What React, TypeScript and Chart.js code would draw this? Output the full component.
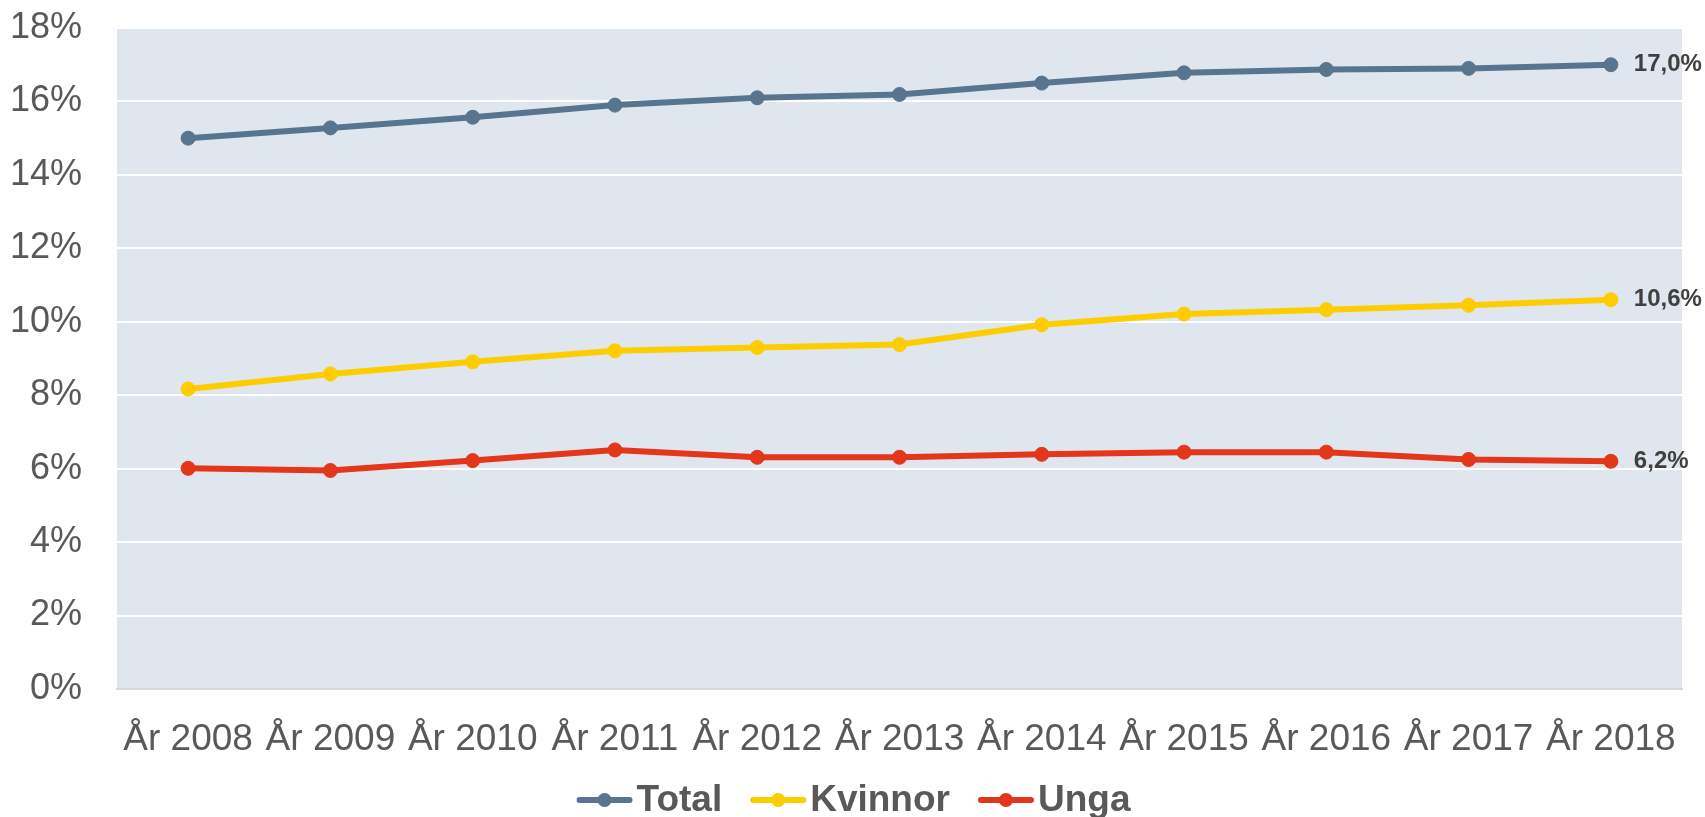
import React, { useEffect, useRef } from 'react';
import { Chart, registerables } from 'chart.js';

Chart.register(...registerables);

const categories = ['År 2008', 'År 2009', 'År 2010', 'År 2011', 'År 2012', 'År 2013', 'År 2014', 'År 2015', 'År 2016', 'År 2017', 'År 2018'];
const totalValues = [15.0, 15.28, 15.57, 15.9, 16.1, 16.19, 16.5, 16.78, 16.87, 16.9, 17.0];
const kvinnorValues = [8.17, 8.58, 8.91, 9.21, 9.3, 9.38, 9.92, 10.21, 10.33, 10.45, 10.6];
const ungaValues = [6.01, 5.95, 6.22, 6.51, 6.31, 6.31, 6.39, 6.45, 6.45, 6.25, 6.2];
const seriesNames = ['Total', 'Kvinnor', 'Unga'];
const endLabels = ['17,0%', '10,6%', '6,2%'];
const yTickValues = [0, 2, 4, 6, 8, 10, 12, 14, 16, 18];

const COLORS = ['#57758F', '#FFCC00', '#E3361A'];
const FONT = '"Liberation Sans", Arial, sans-serif';

const W = 1705;
const H = 817;

const backgroundPlugin = {
  id: 'plotBg',
  beforeDraw(chart: any) {
    const { ctx, chartArea } = chart;
    ctx.save();
    ctx.fillStyle = '#DFE6ED';
    ctx.fillRect(chartArea.left, chartArea.top, chartArea.right - chartArea.left, chartArea.bottom - chartArea.top);
    ctx.restore();
  },
};

const endLabelPlugin = {
  id: 'endLabels',
  afterDatasetsDraw(chart: any) {
    const { ctx } = chart;
    ctx.save();
    ctx.font = `bold 24px ${FONT}`;
    ctx.fillStyle = '#404040';
    ctx.textAlign = 'left';
    ctx.textBaseline = 'middle';
    chart.data.datasets.forEach((ds: any, i: number) => {
      const meta = chart.getDatasetMeta(i);
      const pt = meta.data[meta.data.length - 1];
      if (!pt) return;
      ctx.fillText(endLabels[i], pt.x + 23, pt.y);
    });
    ctx.restore();
  },
};

const legendPlugin = {
  id: 'customLegend',
  afterDraw(chart: any) {
    const { ctx } = chart;
    ctx.save();
    ctx.font = `bold 37px ${FONT}`;
    const markerW = 56;
    const gapText = 4;
    const gapItem = 28;
    const items = chart.data.datasets.map((ds: any) => ({
      label: ds.label,
      color: ds.borderColor,
      tw: ctx.measureText(ds.label).width,
    }));
    let total = 0;
    items.forEach((it: any, i: number) => {
      total += markerW + gapText + it.tw + (i < items.length - 1 ? gapItem : 0);
    });
    let x = chart.width / 2 - total / 2 + 1;
    const y = 800;
    items.forEach((it: any) => {
      ctx.strokeStyle = it.color;
      ctx.fillStyle = it.color;
      ctx.lineWidth = 6;
      ctx.lineCap = 'round';
      ctx.beginPath();
      ctx.moveTo(x + 3, y);
      ctx.lineTo(x + markerW - 3, y);
      ctx.stroke();
      ctx.beginPath();
      ctx.arc(x + markerW / 2, y, 7, 0, Math.PI * 2);
      ctx.fill();
      x += markerW + gapText;
      ctx.fillStyle = '#595959';
      ctx.textAlign = 'left';
      ctx.textBaseline = 'middle';
      ctx.fillText(it.label, x, y + 1);
      x += it.tw + gapItem;
    });
    ctx.restore();
  },
};

export default function App() {
  const canvasRef = useRef<HTMLCanvasElement | null>(null);

  useEffect(() => {
    document.body.style.margin = '0';
    const canvas = canvasRef.current;
    if (!canvas) return;
    const seriesValues = [totalValues, kvinnorValues, ungaValues];
    const chart = new Chart(canvas, {
      type: 'line',
      data: {
        labels: categories,
        datasets: seriesNames.map((name, i) => ({
          label: name,
          data: seriesValues[i],
          borderColor: COLORS[i],
          backgroundColor: COLORS[i],
          pointBackgroundColor: COLORS[i],
          pointBorderColor: COLORS[i],
          borderWidth: 6,
          pointRadius: 7,
          pointBorderWidth: 1,
          tension: 0,
          fill: false,
        })),
      },
      options: {
        responsive: false,
        animation: false,
        devicePixelRatio: 1,
        layout: { padding: { top: 28, right: 23, left: 0, bottom: 58 } },
        plugins: {
          legend: { display: false },
          tooltip: { enabled: false },
        },
        scales: {
          x: {
            offset: true,
            grid: { display: false, drawTicks: false },
            border: { display: true, color: '#D9D9D9', width: 2 },
            ticks: {
              color: '#595959',
              font: { family: FONT, size: 37 },
              padding: 29,
              maxRotation: 0,
              autoSkip: false,
            },
            afterFit(scale: any) {
              scale.height = 70;
              scale.paddingLeft = 0;
              scale.paddingRight = 0;
            },
          },
          y: {
            min: 0,
            max: 18,
            afterBuildTicks(scale: any) {
              scale.ticks = yTickValues.map((v) => ({ value: v }));
            },
            grid: { color: '#FFFFFF', lineWidth: 2, drawTicks: false },
            border: { display: false },
            ticks: {
              color: '#595959',
              font: { family: FONT, size: 36 },
              padding: 35,
              callback: (v: any) => `${v}%`,
            },
            afterFit(scale: any) {
              scale.width = 117;
              scale.paddingTop = 0;
              scale.paddingBottom = 0;
            },
          },
        },
      },
      plugins: [backgroundPlugin, endLabelPlugin, legendPlugin],
    });
    return () => chart.destroy();
  }, []);

  return (
    <div style={{ width: W, height: H, background: '#fff' }}>
      <canvas ref={canvasRef} width={W} height={H} style={{ display: 'block', width: W, height: H }} />
    </div>
  );
}
